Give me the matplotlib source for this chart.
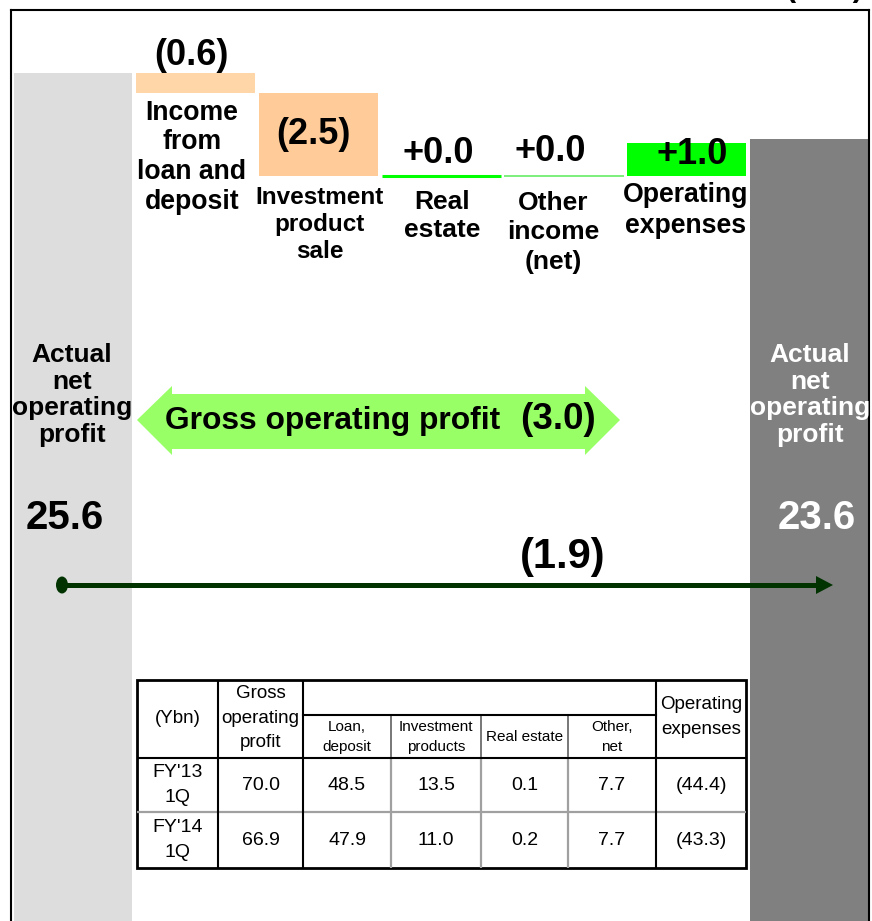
import matplotlib
matplotlib.use("Agg")
import matplotlib.pyplot as plt
from matplotlib.patches import Polygon, Ellipse

plt.rcParams['font.family'] = ['Liberation Sans', 'DejaVu Sans']

# ---- data (Ybn) ----
start_value = 25.6
end_value = 23.6
side_label = "Actual\nnet\noperating\nprofit"
step_labels = ["Income\nfrom\nloan and\ndeposit", "Investment\nproduct\nsale",
               "Real\nestate", "Other\nincome\n(net)", "Operating\nexpenses"]
step_values = [-0.6, -2.5, 0.0, 0.0, 1.0]
gross_label = "Gross operating profit"
gross_change = -3.0
net_change = -1.9

table_periods = ["FY'13\n1Q", "FY'14\n1Q"]
gross_op = [70.0, 66.9]
loan_deposit = [48.5, 47.9]
invest_products = [13.5, 11.0]
real_estate = [0.1, 0.2]
other_net = [7.7, 7.7]
op_expenses = [-44.4, -43.3]


def fmt(v, sign=False):
    if v < 0:
        return "(%.1f)" % abs(v)
    return ("+%.1f" % v) if sign else "%.1f" % v


W, H = 872, 921
fig = plt.figure(figsize=(W / 100, H / 100), dpi=100)


def fx(px):
    return px / W


def fy(py):
    return 1 - py / H


ax = fig.add_axes([fx(11), 0, 858 / W, 911 / H])
ax.set_xlim(-0.505, 6.485)
ax.set_ylim(0, 27.5)
ax.set_xticks([])
ax.set_yticks([])
ax.spines['bottom'].set_visible(False)
for s in ['top', 'left', 'right']:
    ax.spines[s].set_linewidth(1.5)

# waterfall
bw = 0.97
ax.bar(0, start_value, width=0.96, color='#dddddd', zorder=1)
step_colors = ['#ffd6a8', '#ffcc99', '#00ff00', '#66ee66', '#00ff00']
label_dx = [-4, -5, -3, -14, 5]
label_dy = [17, -42, 22, 24, -12]
cat_dx = [-4, 1, 1, -11, -1]
cat_dy = [-7, -10, -14, -15, -6]
cat_size = [19.2, 17.5, 19, 19, 19.2]
lsp = [1.18, 1.22, 1.22, 1.3, 1.29]
level = start_value
for i, d in enumerate(step_values, start=1):
    lo, hi = min(level, level + d), max(level, level + d)
    if d == 0:
        lw = 2.2 if i == 3 else 1.2
        ax.hlines(level, i - bw / 2, i + bw / 2, color=step_colors[i - 1], lw=lw, zorder=2)
    else:
        ax.bar(i, hi - lo, bottom=lo, width=bw, color=step_colors[i - 1], zorder=1)
    # value label
    ax.annotate(fmt(d, sign=True), xy=(i, hi), xytext=(label_dx[i - 1], label_dy[i - 1]),
                textcoords='offset pixels', ha='center', va='center',
                fontsize=26, fontweight='bold')
    # category label below the step
    ax.annotate(step_labels[i - 1], xy=(i, lo), xytext=(cat_dx[i - 1], cat_dy[i - 1]),
                textcoords='offset pixels', ha='center', va='top',
                fontsize=cat_size[i - 1], fontweight='bold', linespacing=lsp[i - 1])
    level += d
ax.bar(6, end_value, width=bw, color='#808080', zorder=1)

# side labels
fig.text(fx(72), fy(395), side_label, ha='center', va='center', fontsize=19,
         fontweight='bold', linespacing=1.15)
fig.text(fx(810), fy(395), side_label, ha='center', va='center', fontsize=19,
         fontweight='bold', linespacing=1.15, color='white')
fig.text(fx(65), fy(518), "%.1f" % start_value, ha='center', va='center',
         fontsize=29, fontweight='bold')
fig.text(fx(817), fy(518), "%.1f" % end_value, ha='center', va='center',
         fontsize=29, fontweight='bold', color='white')

# gross operating profit double arrow
pts = [(137, 420), (172, 386), (172, 394), (585, 394), (585, 386), (620, 420),
       (585, 455), (585, 449), (172, 449), (172, 455)]
fig.patches.append(Polygon([(fx(x), fy(y)) for x, y in pts], closed=True,
                           transform=fig.transFigure, facecolor='#99ff66',
                           edgecolor='none', zorder=3))
fig.text(fx(333), fy(421), gross_label, ha='center', va='center', fontsize=22.9,
         fontweight='bold', zorder=4)
fig.text(fx(558), fy(419), fmt(gross_change), ha='center', va='center', fontsize=26.5,
         fontweight='bold', zorder=4)

# net change arrow
fig.text(fx(563), fy(557), fmt(net_change), ha='center', va='center', fontsize=30,
         fontweight='bold')
fig.lines.append(plt.Line2D([fx(62), fx(820)], [fy(585), fy(585)], transform=fig.transFigure,
                            color='#003300', lw=3.6, zorder=3))
fig.patches.append(Ellipse((fx(62), fy(585)), 12 / W, 17 / H, transform=fig.transFigure,
                           facecolor='#003300', edgecolor='none', zorder=3))
head = [(816, 576), (833, 585), (816, 594)]
fig.patches.append(Polygon([(fx(x), fy(y)) for x, y in head], closed=True,
                           transform=fig.transFigure, facecolor='#003300',
                           edgecolor='none', zorder=3))

# top-right unit, mostly clipped as in the source slide
fig.text(fx(824), fy(-4), "(Ybn)", ha='center', va='baseline', fontsize=22,
         fontweight='bold')

# ---- table ----
cx = [137, 218, 303, 391, 481, 568, 656, 746]
ry = [680, 715, 758, 812, 868]
tax = fig.add_axes([fx(137), fy(868), 609 / W, 188 / H])
tax.set_xlim(cx[0], cx[-1])
tax.set_ylim(ry[-1], ry[0])
tax.axis('off')
tax.add_patch(plt.Rectangle((cx[0], ry[0]), cx[-1] - cx[0], ry[-1] - ry[0],
                            facecolor='white', edgecolor='none'))
gray = '#a0a0a0'
for x in cx[3:6]:
    tax.plot([x, x], [ry[1], ry[2]], color='#606060', lw=1.2)
    tax.plot([x, x], [ry[2], ry[4]], color=gray, lw=1.6)
tax.plot([cx[0], cx[-1]], [ry[3], ry[3]], color=gray, lw=1.6)
for x in [cx[1], cx[2], cx[6]]:
    tax.plot([x, x], [ry[0], ry[4]], color='black', lw=1.5)
tax.plot([cx[2], cx[6]], [ry[1], ry[1]], color='black', lw=1.5)
tax.plot([cx[0], cx[-1]], [ry[2], ry[2]], color='black', lw=1.5)
tax.add_patch(plt.Rectangle((cx[0], ry[0]), cx[-1] - cx[0], ry[-1] - ry[0],
                            facecolor='none', edgecolor='black', lw=2, clip_on=False))

head_fs = 13.5
num_fs = 14
small = 11
tax.text((cx[0] + cx[1]) / 2, 718, "(Ybn)", ha='center', va='center', fontsize=head_fs)
tax.text((cx[1] + cx[2]) / 2, 718, "Gross\noperating\nprofit", ha='center', va='center',
         fontsize=head_fs, linespacing=1.56)
tax.text((cx[6] + cx[7]) / 2, 717, "Operating\nexpenses", ha='center', va='center',
         fontsize=head_fs, linespacing=1.56)
sub_heads = ["Loan,\ndeposit", "Investment\nproducts", "Real estate", "Other,\nnet"]
for k, t in enumerate(sub_heads):
    tax.text((cx[2 + k] + cx[3 + k]) / 2, 737, t, ha='center', va='center',
             fontsize=small, linespacing=1.6)
columns = [gross_op, loan_deposit, invest_products, real_estate, other_net, op_expenses]
for r, period in enumerate(table_periods):
    yc = (ry[2 + r] + ry[3 + r]) / 2
    tax.text((cx[0] + cx[1]) / 2, yc, period, ha='center', va='center', fontsize=num_fs,
             linespacing=1.6)
    for c, col in enumerate(columns):
        tax.text((cx[1 + c] + cx[2 + c]) / 2, yc, fmt(col[r]), ha='center', va='center',
                 fontsize=num_fs)

fig.savefig("out.png", dpi=100)
